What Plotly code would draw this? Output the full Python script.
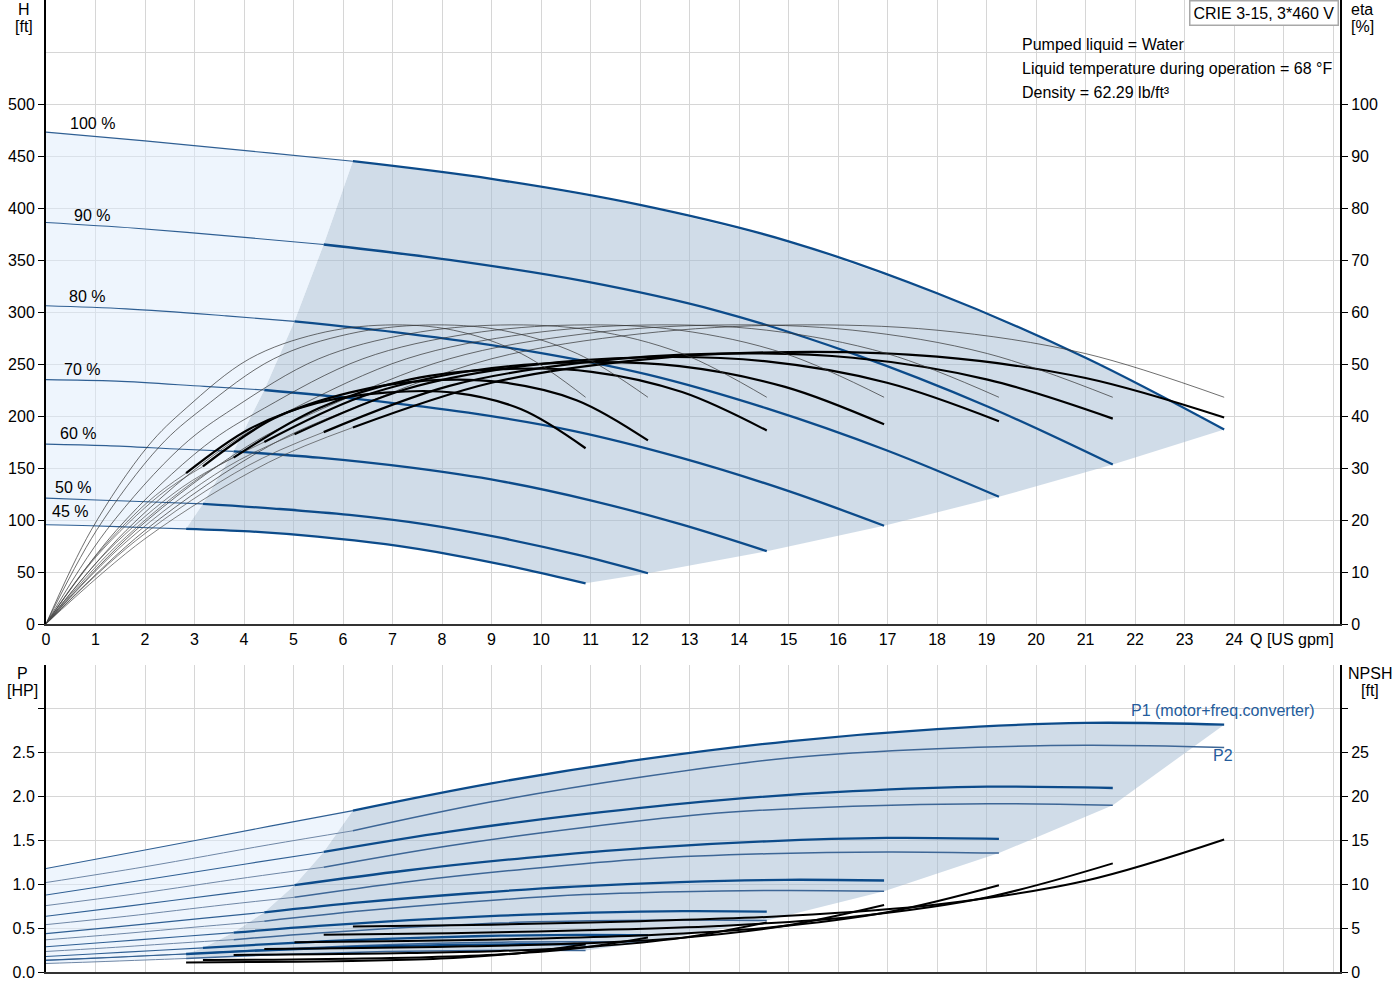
import plotly.graph_objects as go

# ---------------- data ----------------
speed_labels = ["100 %", "90 %", "80 %", "70 %", "60 %", "50 %", "45 %"]
label_q = [0.93, 0.93, 0.82, 0.72, 0.65, 0.55, 0.48]
label_h = [481, 393, 315, 245, 183, 131, 108]

# flow points for each speed curve [US gpm]
q_100 = [0, 2, 4.5, 6.2, 9, 12, 15, 18, 21, 23.8]
q_90 = [0, 1.81, 4.07, 5.61, 8.15, 10.87, 13.58, 16.30, 19.02, 21.55]
q_80 = [0, 1.62, 3.64, 5.02, 7.28, 9.71, 12.14, 14.56, 16.99, 19.25]
q_70 = [0, 1.42, 3.20, 4.41, 6.40, 8.53, 10.67, 12.80, 14.93, 16.93]
q_60 = [0, 1.22, 2.75, 3.79, 5.51, 7.34, 9.18, 11.02, 12.85, 14.56]
q_50 = [0, 1.02, 2.30, 3.17, 4.60, 6.13, 7.67, 9.20, 10.73, 12.16]
q_45 = [0, 0.91, 2.06, 2.83, 4.11, 5.48, 6.86, 8.23, 9.60, 10.90]

# head [ft]
h_100 = [473, 464.5, 453, 445, 428, 403, 368, 318, 256, 187]
h_90 = [386, 380.5, 371.5, 364.9, 350.1, 329.6, 300.9, 259.9, 209.1, 153.3]
h_80 = [306, 303, 296.3, 291.0, 279.3, 262.9, 240.0, 207.3, 166.8, 122.3]
h_70 = [235, 233.5, 228.5, 225.0, 215.8, 203.2, 185.5, 160.2, 128.9, 94.5]
h_60 = [173, 171.5, 168, 166.0, 159.9, 150.5, 137.4, 118.7, 95.5, 70.0]
h_50 = [121, 119.3, 117.0, 115.5, 111.0, 104.9, 95.8, 82.7, 66.6, 48.8]
h_45 = [95.5, 94.5, 92.5, 91.5, 89.0, 84.0, 76.7, 66.3, 53.3, 39.1]

# pump efficiency [%] (same shape at each speed)
eta_pump = [0, 18, 34.2, 41.5, 51, 55.8, 57.5, 56.5, 52, 43.6]

# total efficiency [%]
eta_100 = [0, 16.4, 31.1, 37.8, 46.4, 50.8, 52.3, 51.4, 47.3, 39.7]
eta_90 = [0, 16.0, 30.4, 36.9, 45.8, 50.3, 52.0, 51.2, 47.0, 39.5]
eta_80 = [0, 15.8, 30.1, 36.5, 45.2, 49.7, 51.3, 50.5, 46.4, 39.0]
eta_70 = [0, 15.0, 28.8, 35.0, 43.8, 48.6, 50.3, 49.6, 45.6, 38.4]
eta_60 = [0, 13.8, 26.3, 32.0, 41.5, 47.0, 49.0, 48.5, 44.6, 37.2]
eta_50 = [0, 13.0, 24.8, 30.3, 39.5, 44.5, 46.8, 46.5, 43.0, 35.3]
eta_45 = [0, 12.0, 23.5, 29.0, 37.5, 42.5, 44.5, 44.5, 41.3, 33.8]

# P1 (motor + freq. converter) [HP]
p1_100 = [1.18, 1.39, 1.66, 1.84, 2.15, 2.42, 2.63, 2.77, 2.84, 2.82]
p1_90 = [0.878, 1.034, 1.235, 1.369, 1.600, 1.800, 1.957, 2.061, 2.113, 2.098]
p1_80 = [0.635, 0.748, 0.893, 0.990, 1.157, 1.301, 1.415, 1.490, 1.528, 1.517]
p1_70 = [0.437, 0.514, 0.614, 0.681, 0.796, 0.895, 0.973, 1.025, 1.051, 1.043]
p1_60 = [0.288, 0.339, 0.405, 0.449, 0.525, 0.591, 0.642, 0.676, 0.693, 0.688]
p1_50 = [0.176, 0.208, 0.248, 0.275, 0.321, 0.362, 0.393, 0.414, 0.424, 0.421]
p1_45 = [0.132, 0.155, 0.185, 0.205, 0.240, 0.270, 0.294, 0.309, 0.317, 0.315]

# P2 [HP]
p2_100 = [1.02, 1.20, 1.45, 1.61, 1.94, 2.22, 2.44, 2.545, 2.585, 2.56]
p2_90 = [0.757, 0.891, 1.077, 1.195, 1.440, 1.648, 1.812, 1.890, 1.919, 1.901]
p2_80 = [0.540, 0.635, 0.768, 0.852, 1.027, 1.175, 1.292, 1.348, 1.369, 1.356]
p2_70 = [0.367, 0.431, 0.521, 0.579, 0.697, 0.798, 0.877, 0.915, 0.929, 0.920]
p2_60 = [0.234, 0.275, 0.332, 0.369, 0.445, 0.509, 0.559, 0.583, 0.592, 0.587]
p2_50 = [0.136, 0.160, 0.193, 0.215, 0.259, 0.296, 0.325, 0.340, 0.345, 0.342]
p2_45 = [0.097, 0.114, 0.138, 0.154, 0.185, 0.212, 0.233, 0.243, 0.247, 0.244]

# NPSH [ft]
npsh_100 = [5.2, 5.2, 5.2, 5.2, 5.4, 5.8, 6.4, 7.7, 10.4, 15.1]
npsh_90 = [4.26, 4.26, 4.26, 4.26, 4.43, 4.76, 5.25, 6.31, 8.53, 12.38]
npsh_80 = [3.40, 3.40, 3.40, 3.40, 3.53, 3.79, 4.19, 5.04, 6.80, 9.88]
npsh_70 = [2.63, 2.63, 2.63, 2.63, 2.73, 2.93, 3.24, 3.89, 5.26, 7.63]
npsh_60 = [1.95, 1.95, 1.95, 1.95, 2.02, 2.17, 2.40, 2.88, 3.89, 5.65]
npsh_50 = [1.36, 1.36, 1.36, 1.36, 1.41, 1.51, 1.67, 2.01, 2.71, 3.94]
npsh_45 = [1.09, 1.09, 1.09, 1.09, 1.13, 1.21, 1.34, 1.61, 2.17, 3.16]

x_ticks = list(range(0, 25))
h_ticks = list(range(0, 501, 50))
eta_ticks = list(range(0, 101, 10))
p_ticks = [0.0, 0.5, 1.0, 1.5, 2.0, 2.5, 3.0]
npsh_ticks = [0, 5, 10, 15, 20, 25, 30]

Q = [q_100, q_90, q_80, q_70, q_60, q_50, q_45]
H = [h_100, h_90, h_80, h_70, h_60, h_50, h_45]
ETA = [eta_100, eta_90, eta_80, eta_70, eta_60, eta_50, eta_45]
P1 = [p1_100, p1_90, p1_80, p1_70, p1_60, p1_50, p1_45]
P2 = [p2_100, p2_90, p2_80, p2_70, p2_60, p2_50, p2_45]
NPSH = [npsh_100, npsh_90, npsh_80, npsh_70, npsh_60, npsh_50, npsh_45]

S = 3  # index where the operating range starts

# ---------------- styling ----------------
BLUE = "#0c4b8a"
BLUE_THIN = "#2f5f93"
P2_COL = "#3d6696"
GRID = "#d6d6d6"
FONT = "Liberation Sans, Arial, sans-serif"
FS = 16
FILL_DARK = "rgba(161,185,209,0.5)"
FILL_LIGHT = "rgba(221,235,251,0.5)"

fig = go.Figure()


def line(x, y, xa, ya, color, width, shape="spline"):
    fig.add_trace(go.Scatter(
        x=x, y=y, xaxis=xa, yaxis=ya, mode="lines",
        line=dict(color=color, width=width, shape=shape, smoothing=1.0),
        hoverinfo="skip", showlegend=False))


def poly(x, y, xa, ya, fillcolor):
    fig.add_trace(go.Scatter(
        x=x, y=y, xaxis=xa, yaxis=ya, mode="lines", fill="toself",
        fillcolor=fillcolor, line=dict(width=0), hoverinfo="skip",
        showlegend=False))


# ---------- top panel fills ----------
n = len(Q)
gx = (Q[0][S:] + [Q[i][-1] for i in range(1, n)] + Q[-1][S:][::-1]
      + [Q[i][S] for i in range(n - 2, -1, -1)])
gy = (H[0][S:] + [H[i][-1] for i in range(1, n)] + H[-1][S:][::-1]
      + [H[i][S] for i in range(n - 2, -1, -1)])
poly(gx, gy, "x", "y", FILL_DARK)
lx = Q[0][:S + 1] + [Q[i][S] for i in range(1, n)] + Q[-1][:S + 1][::-1]
ly = H[0][:S + 1] + [H[i][S] for i in range(1, n)] + H[-1][:S + 1][::-1]
poly(lx, ly, "x", "y", FILL_LIGHT)

# ---------- bottom panel fills ----------
bgx = (Q[0][S:] + [Q[i][-1] for i in range(1, n)] + Q[-1][S:][::-1]
       + [Q[i][S] for i in range(n - 1, 0, -1)])
bgy = (P1[0][S:] + [P2[i][-1] for i in range(1, n)] + P2[-1][S:][::-1]
       + [P1[i][S] for i in range(n - 1, 0, -1)])
poly(bgx, bgy, "x2", "y3", FILL_DARK)
blx = Q[0][:S + 1] + [Q[i][S] for i in range(1, n)] + [Q[-1][S]] + Q[-1][:S + 1][::-1]
bly = P1[0][:S + 1] + [P1[i][S] for i in range(1, n)] + [P2[-1][S]] + P2[-1][:S + 1][::-1]
poly(blx, bly, "x2", "y3", FILL_LIGHT)

# ---------- efficiency curves ----------
for i in range(n):
    line(Q[i], eta_pump, "x", "y2", "#303030", 0.7)
    line(Q[i][:S + 1], ETA[i][:S + 1], "x", "y2", "#4a4a4a", 0.7)
    line(Q[i][S:], ETA[i][S:], "x", "y2", "#000000", 2.2)

# ---------- head curves ----------
for i in range(n):
    line(Q[i][:S + 1], H[i][:S + 1], "x", "y", BLUE_THIN, 1.1)
    line(Q[i][S:], H[i][S:], "x", "y", BLUE, 2.3)

# ---------- power curves ----------
for i in range(n):
    line(Q[i][:S + 1], P2[i][:S + 1], "x2", "y3", "#6f87a6", 1.0)
    line(Q[i][S:], P2[i][S:], "x2", "y3", P2_COL, 1.5)
    line(Q[i][:S + 1], P1[i][:S + 1], "x2", "y3", BLUE_THIN, 1.1)
    line(Q[i][S:], P1[i][S:], "x2", "y3", BLUE, 2.3)

# ---------- NPSH curves ----------
for i in range(n):
    line(Q[i][S:], NPSH[i][S:], "x2", "y4", "#000000", 2.0)

# ---------------- layout ----------------
tickfont = dict(family=FONT, size=FS, color="#000")
top_dom = [(972 - 624) / 972, 1.0]
bot_dom = [0.0, (972 - 665) / 972]

xcommon = dict(range=[0, 26.14], tickmode="array", showgrid=True,
               gridcolor=GRID, gridwidth=1, zeroline=False, ticks="",
               showline=True, linecolor="#333", linewidth=1.5,
               automargin=False,
               minor=dict(tickmode="array", tickvals=[25, 26], showgrid=True,
                          gridcolor=GRID, ticks=""),
               tickfont=tickfont)

fig.update_layout(
    width=1400, height=1000,
    margin=dict(l=46, r=60, t=0, b=28, autoexpand=False),
    paper_bgcolor="white", plot_bgcolor="white",
    font=dict(family=FONT, size=FS, color="#000"),
    showlegend=False,
    xaxis=dict(domain=[0, 1], anchor="y", tickvals=x_ticks,
               ticktext=[str(v) for v in x_ticks], **xcommon),
    xaxis2=dict(domain=[0, 1], anchor="y3", tickvals=x_ticks,
                ticktext=["" for v in x_ticks], **xcommon),
    yaxis=dict(domain=top_dom, anchor="x", range=[0, 600],
               tickmode="array", tickvals=h_ticks,
               ticktext=[str(v) for v in h_ticks], automargin=False,
               showgrid=True, gridcolor=GRID, zeroline=False,
               ticks="outside", ticklen=6, tickcolor="#000",
               showline=True, linecolor="#000", linewidth=2,
               minor=dict(tickmode="array", tickvals=[550, 600],
                          showgrid=True, gridcolor=GRID, ticks=""),
               tickfont=tickfont),
    yaxis2=dict(domain=top_dom, anchor="x", overlaying="y", side="right",
                range=[0, 120], tickmode="array", tickvals=eta_ticks,
                ticktext=[str(v) for v in eta_ticks], showgrid=False,
                automargin=False,
                zeroline=False, ticks="outside", ticklen=6, tickcolor="#000",
                showline=True, linecolor="#000", linewidth=2,
                tickfont=tickfont),
    yaxis3=dict(domain=bot_dom, anchor="x2", range=[0, 3.5],
                tickmode="array", tickvals=p_ticks,
                ticktext=["%.1f" % v if v < 2.9 else "" for v in p_ticks],
                showgrid=True, gridcolor=GRID, zeroline=False,
                automargin=False,
                ticks="outside", ticklen=6, tickcolor="#000",
                showline=True, linecolor="#000", linewidth=2,
                minor=dict(tickmode="array", tickvals=[3.5],
                           showgrid=True, gridcolor="#bbbbbb", ticks=""),
                tickfont=tickfont),
    yaxis4=dict(domain=bot_dom, anchor="x2", overlaying="y3", side="right",
                range=[0, 35], tickmode="array", tickvals=npsh_ticks,
                ticktext=[str(v) if v < 30 else "" for v in npsh_ticks],
                showgrid=False, zeroline=False, ticks="outside", ticklen=6,
                automargin=False,
                tickcolor="#000", showline=True, linecolor="#000",
                linewidth=2, tickfont=tickfont),
)

ann = []
for lab, qx, hy in zip(speed_labels, label_q, label_h):
    ann.append(dict(x=qx, y=hy, xref="x", yref="y", text=lab,
                    showarrow=False, xanchor="center", yanchor="middle",
                    font=dict(family=FONT, size=FS, color="#000")))


def paper_y(py):
    return (972 - py) / 972


def paper_x(px):
    return (px - 46) / 1294


for txt, px, py in [("H", 24, 9), ("[ft]", 24, 26),
                    ("eta", 1362, 9), ("[%]", 1362, 26),
                    ("P", 22, 673), ("[HP]", 22, 690),
                    ("NPSH", 1370, 673), ("[ft]", 1370, 690)]:
    ann.append(dict(x=paper_x(px), y=paper_y(py), xref="paper", yref="paper",
                    text=txt, showarrow=False, xanchor="center",
                    yanchor="middle", font=dict(family=FONT, size=FS)))

for txt, py in [("Pumped liquid = Water", 44),
                ("Liquid temperature during operation = 68 °F", 68),
                ("Density = 62.29 lb/ft³", 92)]:
    ann.append(dict(x=paper_x(1020), y=paper_y(py), xref="paper",
                    yref="paper", text=txt, showarrow=False, xanchor="left",
                    yanchor="middle", font=dict(family=FONT, size=FS)))

ann.append(dict(x=paper_x(1339), y=1.0, xref="paper", yref="paper",
                text="CRIE 3-15, 3*460 V", showarrow=False, xanchor="right",
                yanchor="top", bgcolor="white", bordercolor="#a8a8a8",
                borderwidth=1.5, borderpad=3,
                font=dict(family=FONT, size=FS)))

ann.append(dict(x=25.17, y=paper_y(639), xref="x", yref="paper",
                text="Q [US gpm]", showarrow=False, xanchor="center",
                yanchor="middle", font=dict(family=FONT, size=FS)))

ann.append(dict(x=23.77, y=2.98, xref="x2", yref="y3",
                text="P1 (motor+freq.converter)", showarrow=False,
                xanchor="center", yanchor="middle",
                font=dict(family=FONT, size=FS, color="#245c9c")))
ann.append(dict(x=23.78, y=2.47, xref="x2", yref="y3", text="P2",
                showarrow=False, xanchor="center", yanchor="middle",
                font=dict(family=FONT, size=FS, color="#245c9c")))

fig.update_layout(annotations=ann)

fig.add_shape(type="rect", xref="paper", yref="paper",
              x0=paper_x(1017), x1=paper_x(1331),
              y0=paper_y(104), y1=paper_y(31),
              fillcolor="white", line=dict(width=0), layer="between")

fig.write_html(
    "out.html",
    config={"displayModeBar": False},
    post_script="document.body.style.margin='0px';"
                "document.body.style.padding='0px';",
)
